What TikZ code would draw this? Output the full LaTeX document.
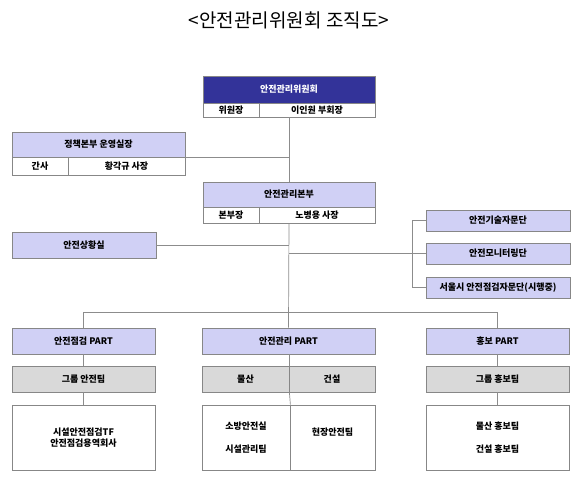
\documentclass[tikz,border=0pt]{standalone}
\usepackage{fontspec}
\newfontfamily\kr{Noto Sans CJK KR}
\definecolor{navy}{RGB}{51,51,153}
\definecolor{lav}{RGB}{208,208,245}
\definecolor{lgray}{RGB}{217,217,217}
\definecolor{bord}{RGB}{135,135,135}
\definecolor{conn}{RGB}{140,140,140}
\newcommand\mkcell[7]{%
  \node[cellbox,#6,minimum width={(#4-#2)*1pt},minimum height={(#5-#3)*1pt}]
    (#1) at ({(#2+#4)/2},{(#3+#5)/2}) {#7};}
\tikzset{
  cellbox/.style={draw=bord,line width=0.8pt,inner sep=0pt,align=center,
    font=\kr\bfseries\fontsize{9}{10.5}\selectfont},
  navyfill/.style={fill=navy,text=white},
  lavfill/.style={fill=lav},
  grayfill/.style={fill=lgray},
  whitefill/.style={fill=white},
  link/.style={draw=conn,line width=0.7pt},
}
\begin{document}
\begin{tikzpicture}[x=1pt,y=-1pt]
\useasboundingbox (0,0) rectangle (582,482);
\node[font=\kr\fontsize{19}{22}\selectfont] (title) at (289,20) {<안전관리위원회 조직도>};

% committee
\mkcell{comm}{203}{76}{375}{103}{navyfill}{안전관리위원회}
\mkcell{commA}{203}{103}{259}{117}{whitefill}{위원장}
\mkcell{commB}{259}{103}{375}{117}{whitefill}{이인원 부회장}

% policy
\mkcell{pol}{12}{132}{185}{157}{lavfill}{정책본부 운영실장}
\mkcell{polA}{12}{157}{68}{175}{whitefill}{간사}
\mkcell{polB}{68}{157}{185}{175}{whitefill}{황각규 사장}

% HQ
\mkcell{hq}{203}{182}{375}{207}{lavfill}{안전관리본부}
\mkcell{hqA}{203}{207}{259}{223}{whitefill}{본부장}
\mkcell{hqB}{259}{207}{375}{223}{whitefill}{노병용 사장}

% situation room
\mkcell{sit}{12}{232}{156}{258}{lavfill}{안전상황실}

% advisory
\mkcell{adv1}{426}{210}{570}{231}{lavfill}{안전기술자문단}
\mkcell{adv2}{426}{243}{570}{264}{lavfill}{안전모니터링단}
\mkcell{adv3}{426}{277}{570}{298}{lavfill}{서울시 안전점검자문단(시행중)}

% parts
\mkcell{partL}{12}{328}{155}{354}{lavfill}{안전점검 PART}
\mkcell{partM}{202}{328}{375}{354}{lavfill}{안전관리 PART}
\mkcell{partR}{426}{328}{569}{354}{lavfill}{홍보 PART}

\mkcell{grpL}{12}{366}{155}{392}{grayfill}{그룹 안전팀}
\mkcell{grpMa}{202}{366}{289}{392}{grayfill}{물산}
\mkcell{grpMb}{289}{366}{375}{392}{grayfill}{건설}
\mkcell{grpR}{426}{366}{569}{392}{grayfill}{그룹 홍보팀}

\mkcell{botL}{12}{405}{155}{470}{whitefill}{시설안전점검TF\\안전점검용역회사}
\mkcell{botMa}{202}{405}{290}{470}{whitefill}{소방안전실\\[13pt]시설관리팀}
\mkcell{botMb}{290}{405}{375}{470}{whitefill}{현장안전팀\\[-2pt]\strut}
\mkcell{botR}{426}{405}{569}{470}{whitefill}{물산 홍보팀\\[13pt]건설 홍보팀}

\coordinate (bar) at (289,312);

% connectors
\draw[link] (commB.south -| hq.north) -- (hq.north);
\draw[link] (pol.south east) -- (pol.south east -| hq.north);
\draw[link] (sit.east) -- (sit.east -| hq.north);
\draw[link] (hqB.south -| hq.north) -- (partM.north);
\draw[link] (adv2.west -| hq.north) -- (adv2.west);
\draw[link] (adv1.west) -- ++(-13,0) |- (adv3.west);
\draw[link] (partL.north) -- (partL.north |- bar) -- (partR.north |- bar) -- (partR.north);
\draw[link] (partL.south) -- (grpL.north);
\draw[link] (grpL.south) -- (botL.north);
\draw[link] (partR.south) -- (grpR.north);
\draw[link] (grpR.south) -- (botR.north);
\draw[link] (partM.south -| grpMa.north east) -- (grpMa.north east);
\draw[link] (grpMa.south east) -- (botMa.north east);
\end{tikzpicture}
\end{document}
